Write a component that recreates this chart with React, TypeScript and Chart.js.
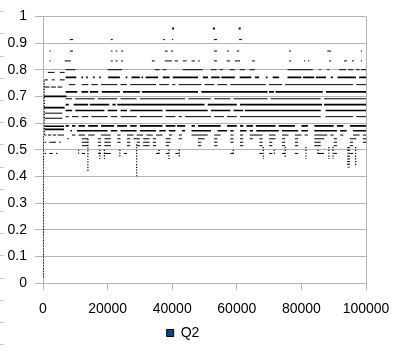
import React, { useEffect, useRef } from "react";
import { Chart, registerables } from "chart.js";

Chart.register(...registerables);

const seriesName = "Q2";
const xTickValues = [0, 20000, 40000, 60000, 80000, 100000];
const yTickValues = [0, 0.1, 0.2, 0.3, 0.4, 0.5, 0.6, 0.7, 0.8, 0.9, 1];

// Horizontal runs of points (x in thousands) at each quantised Q2 level
const thinLevels = [0.913, 0.87, 0.833, 0.80, 0.79, 0.762, 0.735, 0.744, 0.691, 0.637, 0.624, 0.618, 0.555, 0.541, 0.528, 0.515, 0.486];
const thinRuns: number[][][] = [
  [[8.3, 9.3], [21, 21.6], [37.1, 37.7], [39.9, 40.3], [52.9, 53.9], [60.7, 61.6]],
  [[2, 2.4], [8.3, 9.3], [21, 21.5], [22.5, 23], [24.2, 24.8], [37.7, 38.6], [39.6, 40.2], [52.9, 53.9], [56.9, 57.5], [60, 60.7], [76.2, 76.8], [88, 89.2], [98.4, 98.8]],
  [[2, 2.4], [6.7, 8.6], [21, 21.6], [22.5, 23.1], [24.2, 24.8], [33.7, 34.6], [37.7, 39.9], [40.8, 41.8], [43.3, 44.5], [46, 47], [48, 48.5], [52.9, 53.9], [56.9, 57.9], [59.4, 61], [64.7, 65.6], [76.2, 76.8], [80.8, 81.2], [82, 82.4], [88.6, 89.2], [93.2, 94.1], [95.7, 96.3], [98.4, 98.8]],
  [[7, 10], [20, 24.5], [34.6, 36.1], [37.1, 38.2], [43.3, 49.5], [52, 53.7], [54.7, 55.7], [57.8, 59.4], [60.9, 62.5], [64, 65.6], [75.7, 83.5], [85.5, 86], [88, 88.6], [91.7, 93.8], [94.5, 96], [97, 98], [98.5, 100]],
  [[1.5, 3.6], [5.2, 6.7]],
  [[0.5, 1.5], [2.7, 3.6], [5.2, 6.7]],
  [[0.5, 2], [2.5, 4], [4.5, 6]],
  [[8, 10], [12, 14], [15, 17], [18, 23], [24, 26], [27, 35], [36, 39], [40, 41], [42, 49], [50, 53], [54, 57], [58, 69], [70, 74], [75, 96], [97, 100]],
  [[7, 9], [10, 16], [17, 23], [24, 29], [30, 44], [45, 52], [53, 58], [59, 69.5], [70.5, 86], [87, 100]],
  [[0.5, 6]],
  [[7, 8], [9, 11], [12, 14], [15, 20], [21, 23], [24, 29], [30, 37], [38, 41], [42, 43], [44, 52], [53, 56], [57, 60], [61, 86], [87.5, 96], [97, 100]],
  [[0.5, 6]],
  [[0.5, 1], [1.5, 2.5], [3, 4], [4.5, 6.5], [9, 10], [11, 13], [14, 16], [18, 21], [23, 24], [26, 28], [29, 31], [32, 34], [35, 37], [39, 40], [42, 43], [46, 51], [53, 55], [58, 59], [61, 62], [64, 68], [70, 72], [74, 76], [78, 80], [81, 82], [84, 88], [89, 90], [92, 93], [96, 98], [99, 100]],
  [[7.5, 8], [12, 14], [17, 18], [19, 21], [23, 24], [26, 27], [28, 30], [31, 33], [34, 35], [38, 39.5], [42, 43], [48, 50], [53, 54], [58, 59], [61, 62], [64, 65], [67, 68], [70, 72], [74, 75], [78, 79], [84, 87], [90, 91], [95, 97], [99, 100]],
  [[0.5, 1], [2, 4], [5, 5.5], [12, 14], [17, 18], [19, 21], [23, 24], [26, 27], [29, 30], [31, 33], [34, 35], [38, 39.5], [48, 49], [53, 54], [58, 59], [61, 62], [67, 68], [70, 71], [74, 75], [78, 79], [84, 86], [90, 91], [95, 96], [99, 100]],
  [[12, 14], [17, 18], [19, 21], [26, 27], [29, 30], [31, 33], [34, 35], [38, 39], [48, 49], [53, 54], [61, 62], [67, 68], [70, 71], [74, 75], [78, 79], [84, 86], [90, 91], [95, 96]],
  [[0.5, 1], [2, 3], [4, 4.5], [12, 13], [17, 18], [19, 21], [25, 26], [35, 36], [38, 39], [41, 42], [58, 59], [67, 68], [70, 71], [74, 75], [78, 79], [85, 87], [90, 91], [95, 96]],
];

const thickLevels = [0.771, 0.717, 0.70, 0.669, 0.658, 0.647, 0.589, 0.588, 0.576, 0.571];
const thickRuns: number[][][] = [
  [[7, 10.3], [11.9, 12.4], [13.4, 13.9], [15.5, 16], [17.4, 17.9], [20.2, 23.8], [25.6, 26.1], [27.4, 30], [30.5, 31], [31.8, 35.6], [37.1, 39.2], [40.2, 48], [49.5, 51.1], [52.1, 54.7], [55.2, 59.4], [60.9, 64.5], [65.6, 66.9], [69, 69.5], [71.1, 73.1], [75.7, 80], [80.5, 84], [84.5, 87.6], [89.1, 89.7], [91.2, 96.9], [97.9, 100]],
  [[7, 10.6], [11.9, 14], [14.5, 17.1], [18.2, 23.8], [24.8, 30], [30.6, 48], [49, 69.5], [70, 71.5], [72, 86.6], [87.6, 100]],
  [[0.3, 7.3]],
  [[7, 8], [9.5, 14], [14.5, 20.5], [21.5, 22.5], [23, 50], [51, 60], [61, 86.4], [87, 100]],
  [[0.3, 6.7]],
  [[7, 9], [10, 19], [20, 23], [24, 26], [27, 37], [38, 51], [52, 58], [59, 62], [62.5, 86], [87.5, 100]],
  [[7, 8], [9, 10], [11, 13], [14, 17], [18, 22], [23, 26], [27, 29], [30, 37], [38, 41], [41.5, 44], [46, 47], [48, 55], [57, 60], [61, 62], [63, 65], [65.9, 72], [73, 78], [80, 82], [84, 90], [91, 93], [95, 100]],
  [[0.5, 6.5]],
  [[0.5, 6.5]],
  [[8.5, 9], [10.5, 20], [21, 23], [24, 29], [30, 35], [36, 38], [39, 41], [43, 44], [46, 52], [54, 57], [58, 59], [61, 63], [64, 65], [66, 73], [74, 79], [80, 82], [84, 91], [92, 94], [96, 100]],
];

// Isolated large points near the top
const topDotX = [40.3, 52.9, 60.9];
const topDotY = [0.955, 0.955, 0.955];

// Vertical streaks of points (x in thousands, top and bottom of the streak)
const streakX = [0.1, 0.4, 11, 13.9, 17.6, 19, 23.8, 29, 35.9, 39, 42.2, 58.9, 68.2, 71.6, 75, 81.4, 85.2, 88.5, 89.8, 94.4, 94.8, 96.8];
const streakTop = [0.55, 0.76, 0.50, 0.54, 0.50, 0.50, 0.50, 0.52, 0.50, 0.50, 0.50, 0.50, 0.51, 0.50, 0.51, 0.51, 0.50, 0.51, 0.51, 0.51, 0.51, 0.51];
const streakBottom = [0.02, 0.55, 0.48, 0.415, 0.465, 0.465, 0.47, 0.40, 0.485, 0.465, 0.47, 0.485, 0.465, 0.485, 0.47, 0.465, 0.485, 0.465, 0.465, 0.433, 0.433, 0.435];

type Pt = { x: number; y: number | null };

function runsToPoints(levels: number[], runs: number[][][]): Pt[] {
  const pts: Pt[] = [];
  levels.forEach((y, i) => {
    runs[i].forEach(([a, b]) => {
      pts.push({ x: a * 1000, y }, { x: b * 1000, y }, { x: b * 1000, y: null });
    });
  });
  return pts;
}

function streakPoints(): Pt[] {
  const pts: Pt[] = [];
  streakX.forEach((x, i) => {
    pts.push({ x: x * 1000, y: streakTop[i] }, { x: x * 1000, y: streakBottom[i] }, { x: x * 1000, y: null });
  });
  return pts;
}

const GRID = "#b3b3b3";
const FONT = { family: "'Liberation Sans', Arial, sans-serif", size: 14 };

export default function App() {
  const ref = useRef<HTMLCanvasElement | null>(null);
  useEffect(() => {
    if (!ref.current) return;
    const lineDs = (data: Pt[], width: number, dash: number[] = []) => ({
      data,
      showLine: true,
      spanGaps: false,
      borderColor: "#000",
      backgroundColor: "#000",
      borderWidth: width,
      borderDash: dash,
      borderCapStyle: "butt",
      pointRadius: 0,
      pointHoverRadius: 0,
    });
    const chart = new Chart(ref.current, {
      type: "scatter",
      data: {
        datasets: [
          { label: seriesName, ...lineDs(runsToPoints(thinLevels, thinRuns), 1) },
          { label: seriesName + "b", ...lineDs(runsToPoints(thickLevels, thickRuns), 1.7) },
          { label: seriesName + "c", ...lineDs(streakPoints(), 1.2, [1.2, 1.6]) },
          {
            label: seriesName + "d",
            data: topDotX.map((x, i) => ({ x: x * 1000, y: topDotY[i] })),
            showLine: false,
            pointStyle: "rect",
            pointRadius: 1.4,
            pointBorderWidth: 0,
            backgroundColor: "#000",
            borderColor: "#000",
          },
        ] as any,
      },
      options: {
        animation: false,
        responsive: true,
        maintainAspectRatio: false,
        layout: { padding: { top: 11, right: 35, left: 0, bottom: 6 } },
        plugins: {
          tooltip: { enabled: false },
          legend: {
            position: "bottom",
            labels: {
              boxWidth: 7,
              boxHeight: 7,
              padding: 6,
              color: "#000",
              font: FONT,
              generateLabels: () => [
                {
                  text: seriesName,
                  fillStyle: "#004586",
                  strokeStyle: "#000",
                  lineWidth: 1,
                  hidden: false,
                  datasetIndex: 0,
                } as any,
              ],
            },
          },
        },
        scales: {
          x: {
            type: "linear",
            min: 0,
            max: 100000,
            afterBuildTicks: (s: any) => {
              s.ticks = xTickValues.map((v) => ({ value: v }));
            },
            afterFit: (s: any) => {
              s.height = 37;
            },
            ticks: {
              color: "#000",
              font: FONT,
              padding: 11,
              maxRotation: 0,
              autoSkip: false,
              callback: (v: any) => String(v),
            },
            grid: {
              color: (c: any) => (c.tick && c.tick.value === 100000 ? GRID : "rgba(0,0,0,0)"),
              tickColor: GRID,
              tickLength: 7,
              lineWidth: 1,
            },
            border: { display: true, color: GRID },
          },
          y: {
            type: "linear",
            min: 0,
            max: 1,
            afterBuildTicks: (s: any) => {
              s.ticks = yTickValues.map((v) => ({ value: v }));
            },
            afterFit: (s: any) => {
              s.width = 43;
            },
            ticks: {
              color: "#000",
              font: FONT,
              padding: 8,
              autoSkip: false,
              callback: (v: any) => String(Math.round(Number(v) * 10) / 10),
            },
            grid: { color: GRID, tickColor: GRID, tickLength: 8, lineWidth: 1 },
            border: { display: true, color: GRID },
          },
        },
      } as any,
    });
    return () => chart.destroy();
  }, []);
  return (
    <div style={{ position: "fixed", left: 0, top: 0, width: 401, height: 356, background: "#fff" }}>
      <div
        style={{
          position: "absolute",
          left: 0,
          top: 0,
          width: 4,
          height: 356,
          backgroundImage: "repeating-linear-gradient(to bottom, rgba(0,0,0,0) 0px, rgba(0,0,0,0) 21.2px, #c8c8c8 21.2px, #c8c8c8 22.2px)",
          backgroundPosition: "0 -10px",
        }}
      />
      <canvas ref={ref} width={401} height={356} />
    </div>
  );
}
